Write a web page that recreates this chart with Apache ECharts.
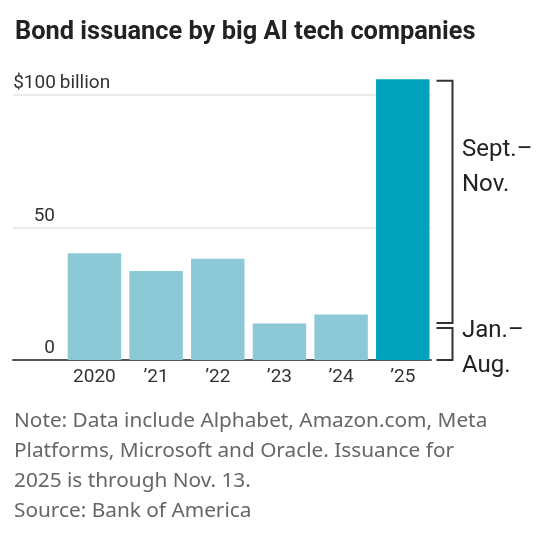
<!DOCTYPE html>
<html>
<head>
<meta charset="utf-8">
<script src="https://cdn.jsdelivr.net/npm/echarts@6/dist/echarts.min.js"></script>
<style>
  html, body { margin: 0; padding: 0; background: #fff; }
  #chart { width: 549px; height: 547px; }
</style>
</head>
<body>
<div id="chart"></div>
<script>
// values in billions of dollars
const years = ['2020', '\u201921', '\u201922', '\u201923', '\u201924', '\u201925'];
const issuance = [40.3, 33.6, 38.2, 13.8, 17.2, 105.9];
const janAug2025 = 13;
const yTicks = [0, 50, 100];

const FONT = 'Roboto, "Noto Sans", sans-serif';
const NOTE_FONT = '"Noto Sans", Roboto, sans-serif';
const lightBlue = '#8cc8d6';
const darkBlue = '#00a3bb';

const chart = echarts.init(document.getElementById('chart'));

const gridTop = 95, gridBottom = 187;

chart.setOption({
    animation: false,
    title: [
        {
            text: 'Bond issuance by big AI tech companies',
            left: 10, top: 15,
            textStyle: { fontFamily: FONT, fontSize: 25.4, fontWeight: 'bold', color: '#222' }
        },
        {
            text: 'Note: Data include Alphabet, Amazon.com, Meta\nPlatforms, Microsoft and Oracle. Issuance for\n2025 is through Nov. 13.\nSource: Bank of America',
            left: 9, top: 401,
            textStyle: { fontFamily: NOTE_FONT, fontSize: 20.8, fontWeight: 'normal', color: '#666', lineHeight: 30 }
        }
    ],
    grid: [
        { left: 13, right: 118, top: gridTop, bottom: gridBottom },
        { left: 63.6, right: 115.4, top: gridTop, bottom: gridBottom }
    ],
    xAxis: [
        {
            gridIndex: 0, type: 'value', min: 0, max: 1,
            axisLine: { show: true, lineStyle: { color: '#555', width: 2 } },
            axisTick: { show: false }, axisLabel: { show: false }, splitLine: { show: false }
        },
        {
            gridIndex: 1, type: 'category', data: years,
            axisLine: { show: false }, axisTick: { show: false },
            axisLabel: { fontFamily: FONT, fontSize: 19, color: '#333', margin: 8 }
        }
    ],
    yAxis: [
        {
            gridIndex: 0, type: 'value', min: yTicks[0], max: yTicks[yTicks.length - 1], interval: 50,
            axisLine: { show: false }, axisTick: { show: false },
            splitLine: { lineStyle: { color: '#e4e4e4', width: 1.5 } },
            axisLabel: {
                inside: true, margin: 1, verticalAlign: 'bottom', align: 'left',
                padding: [0, 0, 2, 0],
                fontFamily: FONT, fontSize: 19, color: '#333',
                formatter: v => v === 100 ? '{n|$100} billion' : '{n|' + v + '}',
                rich: { n: { width: 41, align: 'right', fontFamily: FONT, fontSize: 19, color: '#333' } }
            }
        },
        {
            gridIndex: 1, type: 'value', min: 0, max: 100, show: false
        }
    ],
    series: [
        {
            type: 'bar',
            xAxisIndex: 1, yAxisIndex: 1,
            barCategoryGap: '13.3%',
            clip: false,
            data: issuance.map((v, i) => ({
                value: v,
                itemStyle: { color: i === issuance.length - 1 ? darkBlue : lightBlue }
            }))
        },
        {
            // bracket splitting the 2025 bar into Jan.-Aug. and Sept.-Nov.
            type: 'custom',
            xAxisIndex: 1, yAxisIndex: 1,
            clip: false,
            data: [[issuance.length - 1, janAug2025, issuance[issuance.length - 1]]],
            renderItem: function (params, api) {
                const cat = api.value(0), mid = api.value(1), total = api.value(2);
                const band = api.size([1, 0])[0];
                const cx = api.coord([cat, 0])[0];
                const x0 = cx + band * (1 - 0.133) / 2 + 7;
                const x1 = x0 + 16;
                const yTop = api.coord([cat, total])[1] + 1.5;
                const yMid = api.coord([cat, mid])[1];
                const yZero = api.coord([cat, 0])[1];
                const line = { stroke: '#333', lineWidth: 2, fill: null };
                const txt = (text, y) => ({
                    type: 'text',
                    style: {
                        text: text, x: x1 + 9.5, y: y,
                        fill: '#222', fontFamily: FONT, fontSize: 24,
                        lineHeight: 35, align: 'left', verticalAlign: 'middle'
                    }
                });
                return {
                    type: 'group',
                    children: [
                        { type: 'polyline', shape: { points: [[x0, yTop], [x1, yTop], [x1, yMid - 2.5], [x0, yMid - 2.5]] }, style: line },
                        { type: 'polyline', shape: { points: [[x0, yMid + 2.5], [x1, yMid + 2.5], [x1, yZero], [x0, yZero]] }, style: line },
                        txt('Sept.\u2013\nNov.', api.coord([cat, mid + (total - mid) * 0.642])[1]),
                        txt('Jan.\u2013\nAug.', api.coord([cat, mid * 0.32])[1])
                    ]
                };
            }
        }
    ]
});
</script>
</body>
</html>
